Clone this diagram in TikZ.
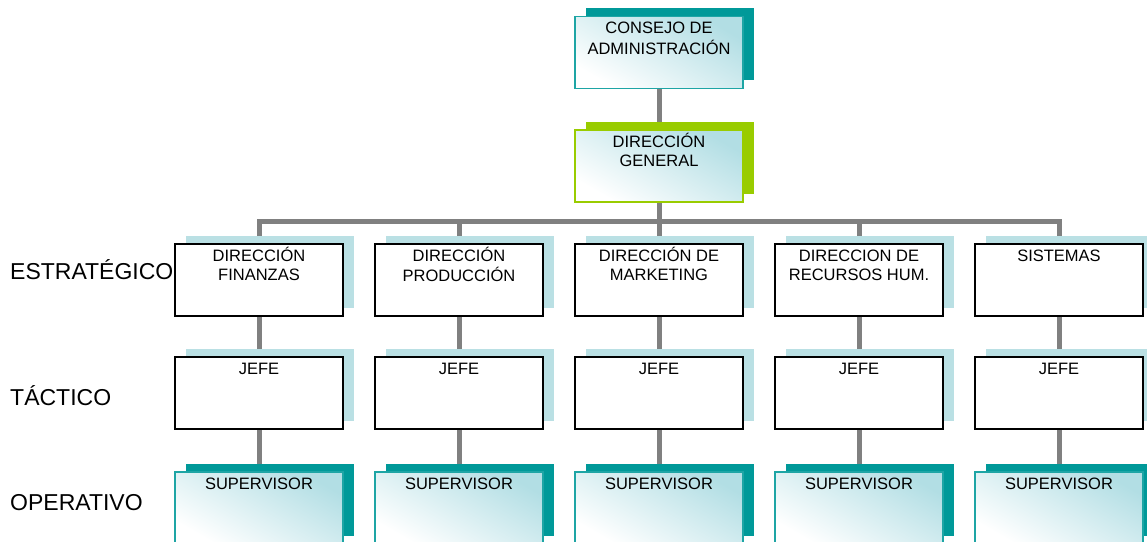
\documentclass[tikz,border=0pt]{standalone}
\usepackage{fontspec}
\setmainfont{Liberation Sans}
\usetikzlibrary{positioning,shadows,backgrounds}

\definecolor{tealdark}{RGB}{0,153,153}
\definecolor{tealline}{RGB}{30,165,165}
\definecolor{limegreen}{RGB}{153,204,0}
\definecolor{paleblue}{RGB}{186,224,228}
\definecolor{fadeblue}{RGB}{178,222,228}
\definecolor{linkgray}{RGB}{128,128,128}

\newcommand{\boxtxt}[1]{\begin{tabular}[t]{@{}c@{}}#1\end{tabular}}

\begin{document}
\begin{tikzpicture}[
				x=1pt, y=1pt,
				box/.style={rectangle, minimum width=168pt, minimum height=72pt, inner sep=0pt, line width=1.6pt},
				plainbox/.style={box, draw=black, fill=white,
						general shadow={fill=paleblue, shadow xshift=11pt, shadow yshift=8pt}},
				shadebox/.style={box, bottom color=white, middle color=fadeblue!25, top color=fadeblue, shading angle=-30},
				tealbox/.style={shadebox, draw=tealline,
						general shadow={fill=tealdark, shadow xshift=11pt, shadow yshift=8pt}},
				greenbox/.style={shadebox, draw=limegreen,
						general shadow={fill=limegreen, shadow xshift=11pt, shadow yshift=8pt}},
				boxtext/.style={anchor=north, yshift=-6pt, inner sep=0pt,
						text height=12pt, font=\fontsize{16.5}{19.5}\selectfont},
				level/.style={anchor=west, inner sep=0pt, font=\fontsize{23}{26}\selectfont},
				link/.style={draw=linkgray, line width=5pt}
			]

			\useasboundingbox (0,0) rectangle (1147,541);

			\def \dx {200}

			% niveles
			\node[level] (lv-1) at (10, 271) {ESTRATÉGICO};
			\node[level] (lv-2) at (10, 145) {TÁCTICO};
			\node[level] (lv-3) at (10, 38) {OPERATIVO};

			\node[tealbox, label={[boxtext]north:{\boxtxt{CONSEJO DE\\ADMINISTRACIÓN}}}] (cons) at (659, 488.5) {};
			\node[greenbox, label={[boxtext]north:{\boxtxt{DIRECCIÓN\\GENERAL}}}] (dg) at (659, 375) {};

			\foreach \i/\txt in {1/{DIRECCIÓN\\FINANZAS}, 2/{DIRECCIÓN\\PRODUCCIÓN},
					3/{DIRECCIÓN DE\\MARKETING}, 4/{DIRECCION DE\\RECURSOS HUM.}, 5/{SISTEMAS}} {
					\node[plainbox, label={[boxtext]north:{\boxtxt{\txt}}}] (s-\i) at (59 + \i * \dx, 261) {};
				}

			\foreach \i in {1, ..., 5} {
					\node[plainbox, label={[boxtext]north:JEFE}] (j-\i) at (59 + \i * \dx, 148) {};
				}

			\foreach \i in {1, ..., 5} {
					\node[tealbox, label={[boxtext]north:SUPERVISOR}] (v-\i) at (59 + \i * \dx, 33) {};
				}

			\begin{scope}[on background layer]
				\draw[link] (cons.south) -- (dg.north);
				\foreach \i in {1, ..., 5} {
						\draw[link] (dg.south) -- ++(0,-19) -| (s-\i.north);
						\draw[link] (s-\i.south) -- (j-\i.north);
						\draw[link] (j-\i.south) -- (v-\i.north);
					}
			\end{scope}

		\end{tikzpicture}
\end{document}
